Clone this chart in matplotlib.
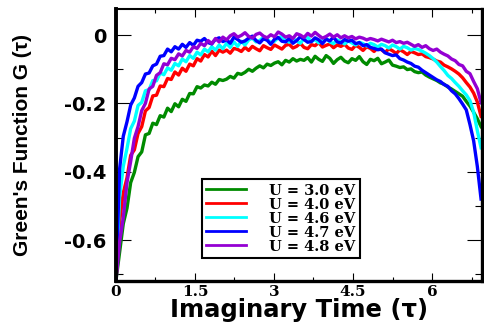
import numpy as np
import matplotlib
matplotlib.use("Agg")
import matplotlib.pyplot as plt
from matplotlib.ticker import MultipleLocator

plt.rcParams['axes.unicode_minus'] = False

# imaginary time grid, step 0.07
tau = np.arange(100) * 0.07

g_u30 = [-0.720, -0.636, -0.552, -0.507, -0.432, -0.402, -0.356, -0.342, -0.292, -0.288,
         -0.258, -0.262, -0.236, -0.240, -0.214, -0.224, -0.201, -0.210, -0.188, -0.194,
         -0.171, -0.172, -0.151,
         -0.155, -0.146, -0.149, -0.138, -0.144, -0.130, -0.133, -0.129, -0.121, -0.126,
         -0.112, -0.115, -0.109, -0.100, -0.106, -0.097, -0.090, -0.096, -0.085, -0.089,
         -0.082, -0.078, -0.087, -0.074, -0.079, -0.069, -0.076, -0.071,
         -0.074, -0.066, -0.079, -0.062, -0.071, -0.077, -0.060, -0.068, -0.083, -0.072,
         -0.065, -0.076, -0.081, -0.069, -0.074, -0.063, -0.078, -0.086, -0.071, -0.075,
         -0.068, -0.084, -0.079, -0.073, -0.088,
         -0.091, -0.095, -0.093, -0.101, -0.099, -0.107, -0.110, -0.108, -0.117, -0.123,
         -0.128, -0.133, -0.140, -0.144, -0.152, -0.158, -0.165, -0.172, -0.179, -0.194,
         -0.208, -0.226, -0.245, -0.268]

g_u40 = [-0.720, -0.546, -0.462, -0.418, -0.352, -0.336, -0.288, -0.268, -0.222, -0.212,
         -0.178, -0.176, -0.149, -0.151, -0.127, -0.130, -0.108, -0.117, -0.097, -0.106,
         -0.085, -0.090, -0.069, -0.076, -0.057, -0.064, -0.047, -0.060, -0.044,
         -0.050, -0.044, -0.053, -0.039, -0.042, -0.048, -0.036, -0.045, -0.033, -0.040,
         -0.046, -0.031, -0.037, -0.042, -0.029, -0.035, -0.041, -0.030, -0.027, -0.038,
         -0.033, -0.024, -0.036, -0.040, -0.028, -0.031, -0.022, -0.035, -0.030, -0.026,
         -0.037, -0.029,
         -0.033, -0.027, -0.038, -0.042, -0.030, -0.036, -0.045, -0.034, -0.039, -0.048,
         -0.037, -0.043, -0.051, -0.040, -0.046, -0.054, -0.043, -0.049, -0.057, -0.048,
         -0.052, -0.057, -0.055, -0.063, -0.066, -0.070, -0.076, -0.079, -0.088, -0.093,
         -0.099, -0.106, -0.114, -0.125, -0.139, -0.152, -0.170, -0.196, -0.238]

g_u46 = [-0.720, -0.474, -0.384, -0.332, -0.274, -0.252, -0.206, -0.197, -0.163, -0.160,
         -0.133, -0.134, -0.111, -0.116, -0.096, -0.103, -0.083, -0.090, -0.070, -0.078,
         -0.060, -0.068, -0.050, -0.058, -0.041,
         -0.049, -0.034, -0.044, -0.029, -0.040, -0.024, -0.036, -0.020, -0.033, -0.018,
         -0.029,
         -0.014, -0.009, -0.020, -0.016, -0.006, -0.012, -0.022, -0.018, -0.008, -0.004,
         -0.015, -0.021, -0.011, -0.017, -0.024, -0.010, -0.007, -0.019, -0.013, -0.023,
         -0.016, -0.009, -0.020, -0.025, -0.014,
         -0.019, -0.026, -0.017, -0.023, -0.029, -0.021, -0.025, -0.032, -0.024, -0.028,
         -0.035, -0.027, -0.031, -0.038, -0.029, -0.034, -0.041, -0.033, -0.037, -0.044,
         -0.039, -0.042,
         -0.047, -0.053, -0.060, -0.069, -0.079, -0.092, -0.104, -0.118, -0.127, -0.139,
         -0.150, -0.163, -0.175, -0.192, -0.226, -0.280, -0.330]

g_u47 = [-0.720, -0.392, -0.296, -0.254, -0.205, -0.184, -0.150, -0.139, -0.114, -0.111,
         -0.090, -0.085, -0.062, -0.060, -0.041, -0.049, -0.034, -0.041, -0.027, -0.036,
         -0.022, -0.030, -0.015,
         -0.018, -0.010, -0.022, -0.026, -0.012, -0.008, -0.019, -0.014, -0.024, -0.006,
         -0.013, -0.021, -0.017, -0.009, -0.003, -0.016, -0.023, -0.011, -0.015, -0.027,
         -0.012, -0.007, -0.018, -0.020, -0.010, -0.024, -0.016, -0.005, -0.013, -0.021,
         -0.019, -0.008, -0.014, -0.025, -0.012, -0.017, -0.006, -0.020, -0.023, -0.013,
         -0.018, -0.015,
         -0.025, -0.022, -0.031, -0.028, -0.036, -0.039, -0.043, -0.041, -0.052, -0.056,
         -0.060, -0.058, -0.069, -0.073, -0.079, -0.083, -0.091, -0.094, -0.103, -0.110,
         -0.117, -0.124, -0.131, -0.136, -0.145, -0.150, -0.163, -0.172, -0.186, -0.202,
         -0.219, -0.262, -0.310, -0.385, -0.480]

g_u48 = [-0.720, -0.606, -0.534, -0.432, -0.370, -0.302, -0.268, -0.221, -0.200, -0.158,
         -0.150, -0.118, -0.110, -0.084, -0.087, -0.068, -0.072, -0.055, -0.061, -0.045,
         -0.050, -0.034, -0.039,
         -0.024, -0.031, -0.016, -0.025, -0.010, -0.020, -0.006, -0.014,
         -0.002, 0.004, -0.006, -0.001, 0.007, -0.004, -0.009, 0.002, 0.006, -0.003,
         -0.008, 0.001, -0.005, 0.009, 0.003, -0.006, -0.002, -0.010, 0.004, 0.000,
         -0.007, 0.005, -0.003, 0.008, -0.001, -0.009, -0.004, 0.003, -0.006, 0.001,
         -0.008, -0.002,
         -0.008, -0.004, -0.011, -0.006, -0.009, -0.014, -0.010, -0.013, -0.017, -0.012,
         -0.016, -0.020, -0.015, -0.022, -0.019, -0.024, -0.021, -0.027, -0.033, -0.028,
         -0.036, -0.031, -0.040, -0.045, -0.041, -0.050, -0.056, -0.061, -0.070, -0.075,
         -0.086, -0.090, -0.106, -0.113, -0.136, -0.157, -0.198]

series = [g_u30, g_u40, g_u46, g_u47, g_u48]
labels = ['U = 3.0 eV', 'U = 4.0 eV', 'U = 4.6 eV', 'U = 4.7 eV', 'U = 4.8 eV']
colors = ['#008b00', '#ff0000', '#00ffff', '#0000ff', '#9400d3']

xticks = [0, 1.5, 3, 4.5, 6]
xticklabels = ['0', '1.5', '3', '4.5', '6']
yticks = [0, -0.2, -0.4, -0.6]
yticklabels = ['0', '-0.2', '-0.4', '-0.6']

fig = plt.figure(figsize=(4.85, 3.26), dpi=100)
ax = fig.add_axes([0.239, 0.138, 0.755, 0.834])

for g, lab, c in zip(series, labels, colors):
    ax.plot(tau, g, color=c, lw=2.4, label=lab)

ax.set_xlim(0, 6.95)
ax.set_ylim(-0.72, 0.076)

ax.set_xticks(xticks)
ax.set_xticklabels(xticklabels, family='DejaVu Serif', fontweight='bold', fontsize=11)
ax.set_yticks(yticks)
ax.set_yticklabels(yticklabels, family='DejaVu Sans', fontweight='bold', fontsize=14)
ax.xaxis.set_minor_locator(MultipleLocator(0.75))
ax.yaxis.set_minor_locator(MultipleLocator(0.1))

ax.tick_params(axis='both', which='both', direction='in', top=True, right=True, width=0.8)
ax.tick_params(axis='x', which='major', length=6, pad=3)
ax.tick_params(axis='x', which='minor', length=3)
ax.tick_params(axis='y', which='major', length=11, pad=7)
ax.tick_params(axis='y', which='minor', length=5)

for side, w in [('left', 2.8), ('bottom', 2.4), ('right', 2.4), ('top', 1.5)]:
    ax.spines[side].set_linewidth(w)

ax.set_xlabel('Imaginary Time (τ)', family='DejaVu Sans', fontweight='bold',
              fontsize=17.5, va='center')
ax.xaxis.set_label_coords(0.5, -0.107)
ax.set_ylabel("Green's Function G (τ)", family=['Liberation Sans Narrow', 'Liberation Sans'],
              fontweight='bold', fontsize=15, va='center')
ax.yaxis.set_label_coords(-0.254, 0.5)

leg = ax.legend(loc='lower left', bbox_to_anchor=(0.235, 0.085), borderaxespad=0,
                prop={'family': 'DejaVu Serif', 'weight': 'bold', 'size': 10.5},
                handlelength=2.7, handletextpad=1.6, labelspacing=0.0,
                fancybox=False, framealpha=1, edgecolor='black', borderpad=0.3)
leg.get_frame().set_linewidth(1.5)
for line in leg.get_lines():
    line.set_linewidth(2.0)

fig.savefig('out.png', dpi=100)
